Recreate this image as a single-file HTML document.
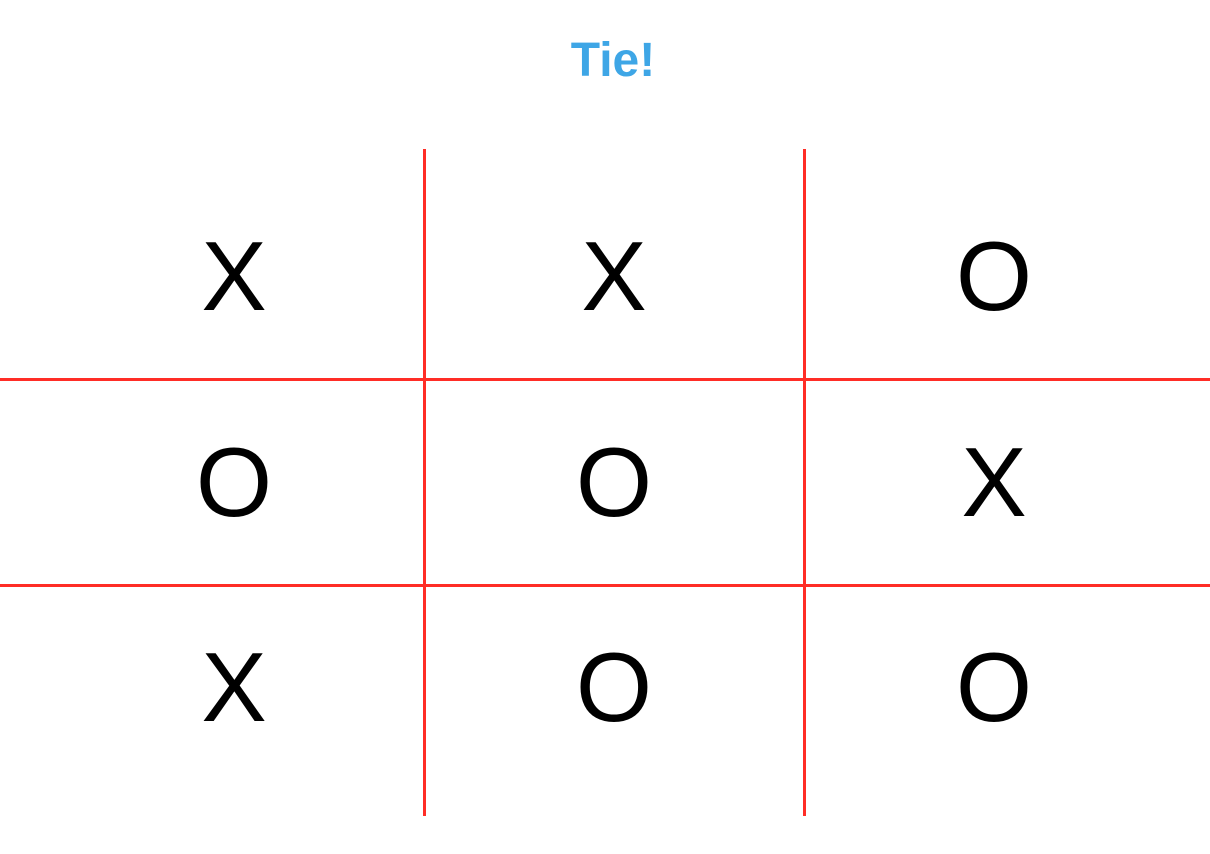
<!DOCTYPE html>
<html><head><meta charset="utf-8"><style>
html,body{margin:0;padding:0;background:#fff;}
#root{position:relative;width:1210px;height:854px;overflow:hidden;font-family:"Liberation Sans",sans-serif;}
.title{position:absolute;left:8px;width:1210px;top:28px;text-align:center;font-size:48px;font-weight:700;color:#3ea6e6;line-height:66px;}
.v{position:absolute;width:3px;top:149px;height:667px;background:#ff2d26;}
.h{position:absolute;height:3px;left:0;width:1210px;background:#ff2d26;}
.cell{position:absolute;width:380px;height:200px;line-height:200px;text-align:center;font-size:98px;color:#000;cursor:pointer;}
</style></head><body>
<div id="root">
<div class="title">Tie!</div>
<div class="v" style="left:423px"></div>
<div class="v" style="left:803px"></div>
<div class="h" style="top:378px"></div>
<div class="h" style="top:584px"></div>
<div class="cell" style="left:44px;top:176px">X</div>
<div class="cell" style="left:424px;top:176px">X</div>
<div class="cell" style="left:804px;top:176px">O</div>
<div class="cell" style="left:44px;top:382px">O</div>
<div class="cell" style="left:424px;top:382px">O</div>
<div class="cell" style="left:804px;top:382px">X</div>
<div class="cell" style="left:44px;top:587px">X</div>
<div class="cell" style="left:424px;top:587px">O</div>
<div class="cell" style="left:804px;top:587px">O</div>
</div>
</body></html>
